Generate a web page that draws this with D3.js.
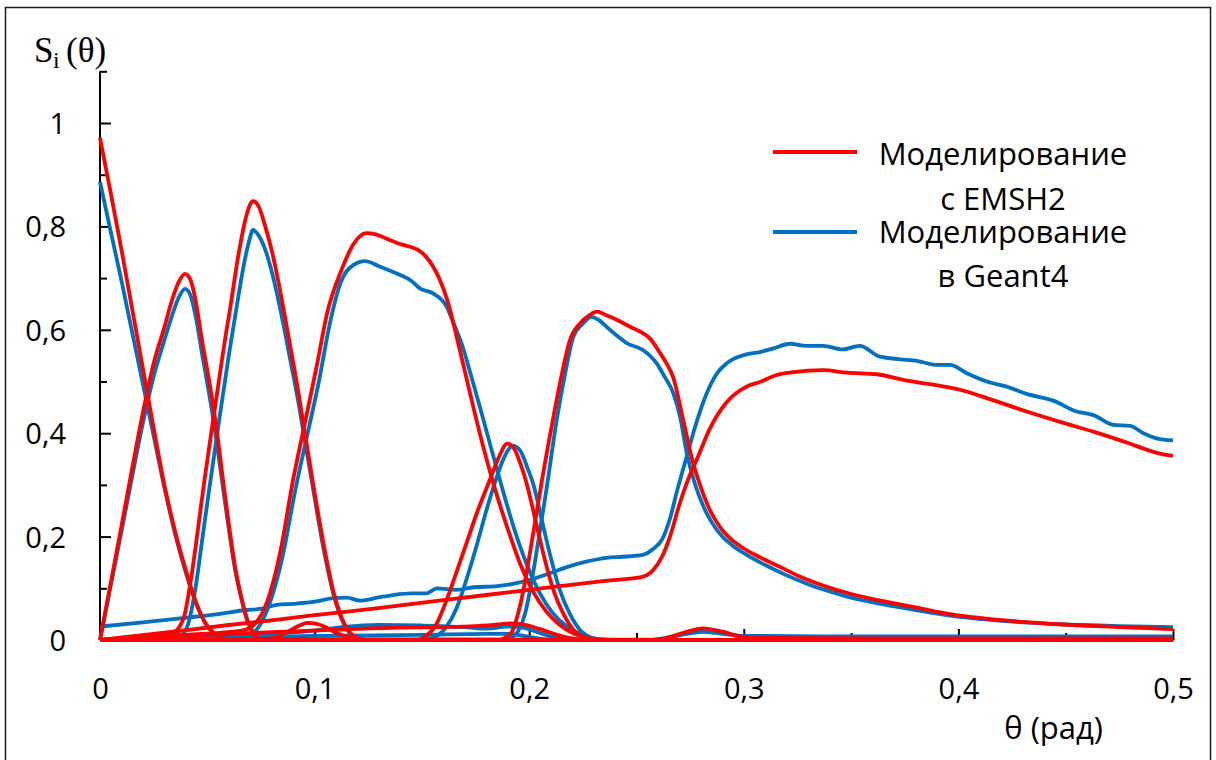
<!DOCTYPE html>
<html>
<head>
<meta charset="utf-8">
<script src="https://cdn.jsdelivr.net/npm/d3@7"></script>
<style>
  html, body { margin: 0; padding: 0; background: #fff; }
  svg { display: block; }
</style>
</head>
<body>
<svg id="chart" width="1216" height="760"></svg>
<script>
// Tick values on both axes
const xMajorTicks = [0, 0.1, 0.2, 0.3, 0.4, 0.5];
const xMinorTicks = [0.05, 0.15, 0.25, 0.35, 0.45];
const yMajorTicks = [0, 0.2, 0.4, 0.6, 0.8, 1.0];
const yMinorTicks = [0.1, 0.3, 0.5, 0.7, 0.9, 1.1];

// Legend entries (each split over two lines)
const legendRedLines = ["Моделирование", "с EMSH2"];
const legendBlueLines = ["Моделирование", "в Geant4"];

// S_i(θ) curves, modelling with EMSH2: [θ, S]
const emsh2S1 = [[0,0.971],[0.005,0.865],[0.01,0.755],[0.015,0.64],[0.02,0.525],[0.025,0.41],[0.03,0.3],[0.035,0.21],[0.04,0.135],[0.045,0.07],[0.05,0.027],[0.055,0.008],[0.06,0.001],[0.5,0]];
const emsh2S2 = [[0,0],[0.005,0.11],[0.01,0.22],[0.014,0.31],[0.02,0.44],[0.025,0.535],[0.03,0.605],[0.0336,0.658],[0.037,0.695],[0.0396,0.708],[0.042,0.698],[0.0445,0.658],[0.0475,0.58],[0.0505,0.51],[0.0536,0.43],[0.0573,0.31],[0.06,0.225],[0.063,0.14],[0.066,0.08],[0.0685,0.04],[0.0713,0.014],[0.075,0.002],[0.08,0],[0.5,0]];
const emsh2S3 = [[0,0],[0.02,0.008],[0.034,0.015],[0.037,0.025],[0.0395,0.05],[0.0425,0.12],[0.0455,0.21],[0.0487,0.31],[0.0536,0.45],[0.059,0.6],[0.0606,0.64],[0.0645,0.745],[0.0685,0.825],[0.0713,0.849],[0.074,0.838],[0.077,0.8],[0.0805,0.745],[0.0835,0.685],[0.0862,0.625],[0.089,0.56],[0.092,0.49],[0.0955,0.4],[0.099,0.31],[0.104,0.19],[0.109,0.09],[0.114,0.03],[0.119,0.006],[0.124,0],[0.5,0]];
const emsh2S4 = [[0,0],[0.03,0.008],[0.062,0.016],[0.068,0.02],[0.072,0.03],[0.078,0.075],[0.084,0.17],[0.09,0.31],[0.0955,0.42],[0.101,0.53],[0.106,0.635],[0.112,0.71],[0.118,0.765],[0.124,0.787],[0.128,0.785],[0.132,0.779],[0.1398,0.766],[0.145,0.76],[0.1483,0.754],[0.152,0.741],[0.158,0.7],[0.162,0.655],[0.166,0.59],[0.17,0.52],[0.174,0.45],[0.1785,0.375],[0.1835,0.3],[0.19,0.215],[0.196,0.145],[0.202,0.092],[0.208,0.055],[0.214,0.03],[0.22,0.014],[0.226,0.005],[0.232,0.001],[0.238,0],[0.5,0]];
const emsh2S5 = [[0,0],[0.148,0],[0.152,0.008],[0.156,0.025],[0.1615,0.077],[0.166,0.13],[0.171,0.19],[0.176,0.25],[0.1817,0.31],[0.186,0.355],[0.1897,0.38],[0.193,0.37],[0.196,0.34],[0.199,0.3],[0.203,0.23],[0.207,0.16],[0.211,0.1],[0.216,0.05],[0.221,0.018],[0.226,0.004],[0.23,0],[0.5,0]];
const emsh2S6 = [[0,0],[0.186,0],[0.189,0.005],[0.192,0.016],[0.194,0.039],[0.197,0.09],[0.2,0.16],[0.203,0.235],[0.206,0.31],[0.211,0.425],[0.215,0.51],[0.219,0.58],[0.2237,0.6125],[0.228,0.628],[0.2316,0.635],[0.236,0.628],[0.241,0.619],[0.247,0.606],[0.2515,0.597],[0.2563,0.583],[0.261,0.555],[0.264,0.535],[0.267,0.509],[0.2718,0.425],[0.276,0.348],[0.28,0.295],[0.284,0.253],[0.289,0.218],[0.2935,0.197],[0.3,0.177],[0.3075,0.16],[0.315,0.145],[0.326,0.123],[0.338,0.104],[0.35,0.089],[0.365,0.075],[0.38,0.063],[0.396,0.05],[0.419,0.039],[0.449,0.03],[0.475,0.025],[0.5,0.021]];
const emsh2S7 = [[0,0],[0.03,0.014],[0.06,0.029],[0.084,0.04],[0.1,0.048],[0.1305,0.062],[0.16,0.077],[0.19,0.092],[0.214,0.104],[0.239,0.116],[0.2516,0.121],[0.2577,0.135],[0.262,0.162],[0.2656,0.2],[0.27,0.262],[0.274,0.31],[0.278,0.348],[0.2843,0.41],[0.292,0.46],[0.3013,0.49],[0.3075,0.499],[0.3153,0.5126],[0.323,0.518],[0.33,0.521],[0.337,0.522],[0.348,0.517],[0.362,0.514],[0.3743,0.503],[0.3852,0.496],[0.4007,0.484],[0.416,0.464],[0.4318,0.442],[0.4473,0.422],[0.4629,0.403],[0.4784,0.382],[0.4925,0.362],[0.5,0.356]];
const emsh2S8 = [[0,0],[0.02,0.004],[0.05,0.01],[0.08,0.015],[0.11,0.02],[0.14,0.024],[0.16,0.025],[0.175,0.027],[0.185,0.03],[0.191,0.032],[0.197,0.03],[0.205,0.021],[0.213,0.01],[0.22,0.003],[0.227,0],[0.5,0]];
const emsh2S9 = [[0,0],[0.076,0],[0.082,0.005],[0.088,0.017],[0.093,0.028],[0.0965,0.033],[0.1,0.032],[0.105,0.025],[0.11,0.014],[0.116,0.005],[0.122,0],[0.5,0]];
const emsh2S10 = [[0,0],[0.258,0],[0.265,0.005],[0.272,0.014],[0.281,0.0225],[0.29,0.016],[0.298,0.007],[0.305,0.004],[0.4,0.003],[0.5,0.003]];

// S_i(θ) curves, modelling in Geant4: [θ, S]
const geant4S1 = [[0,0.886],[0.005,0.79],[0.01,0.695],[0.015,0.595],[0.02,0.495],[0.025,0.395],[0.03,0.295],[0.035,0.205],[0.04,0.13],[0.045,0.068],[0.05,0.027],[0.055,0.008],[0.06,0.001],[0.5,0]];
const geant4S2 = [[0,0],[0.005,0.105],[0.01,0.21],[0.014,0.295],[0.02,0.42],[0.025,0.51],[0.03,0.58],[0.0336,0.628],[0.037,0.665],[0.0396,0.679],[0.042,0.668],[0.0445,0.628],[0.0475,0.555],[0.0505,0.485],[0.0536,0.405],[0.0573,0.295],[0.06,0.215],[0.063,0.135],[0.066,0.078],[0.0685,0.04],[0.0713,0.015],[0.075,0.003],[0.08,0],[0.5,0]];
const geant4S3 = [[0,0],[0.034,0],[0.038,0.008],[0.041,0.03],[0.0445,0.1],[0.0475,0.19],[0.0505,0.28],[0.055,0.41],[0.06,0.55],[0.0637,0.645],[0.067,0.725],[0.0695,0.772],[0.0713,0.793],[0.074,0.782],[0.077,0.755],[0.0805,0.705],[0.0835,0.65],[0.0862,0.595],[0.089,0.535],[0.092,0.47],[0.0955,0.385],[0.099,0.3],[0.104,0.18],[0.109,0.085],[0.114,0.028],[0.119,0.005],[0.124,0],[0.5,0]];
const geant4S4 = [[0,0],[0.063,0],[0.067,0.005],[0.073,0.02],[0.079,0.07],[0.085,0.16],[0.091,0.29],[0.0965,0.395],[0.102,0.5],[0.107,0.61],[0.112,0.69],[0.118,0.725],[0.1235,0.733],[0.1305,0.722],[0.1398,0.706],[0.145,0.695],[0.149,0.68],[0.155,0.671],[0.1615,0.645],[0.165,0.61],[0.169,0.567],[0.173,0.51],[0.177,0.451],[0.182,0.375],[0.187,0.3],[0.193,0.215],[0.199,0.145],[0.205,0.09],[0.211,0.052],[0.217,0.028],[0.223,0.013],[0.229,0.004],[0.235,0.001],[0.24,0],[0.5,0]];
const geant4S5 = [[0,0],[0.15,0],[0.156,0.006],[0.1615,0.026],[0.166,0.06],[0.171,0.12],[0.176,0.19],[0.18,0.25],[0.1845,0.31],[0.188,0.35],[0.1925,0.376],[0.196,0.365],[0.199,0.335],[0.202,0.3],[0.206,0.23],[0.21,0.16],[0.214,0.1],[0.219,0.05],[0.224,0.018],[0.229,0.004],[0.233,0],[0.5,0]];
const geant4S6 = [[0,0],[0.189,0],[0.192,0.005],[0.195,0.018],[0.198,0.05],[0.201,0.11],[0.204,0.185],[0.208,0.29],[0.2128,0.425],[0.2165,0.51],[0.2206,0.587],[0.225,0.612],[0.229,0.625],[0.232,0.62],[0.236,0.606],[0.2405,0.59],[0.2456,0.574],[0.253,0.561],[0.2594,0.535],[0.263,0.51],[0.2671,0.478],[0.2703,0.432],[0.2735,0.36],[0.277,0.305],[0.281,0.26],[0.285,0.228],[0.29,0.2],[0.295,0.182],[0.3,0.168],[0.31,0.145],[0.32,0.125],[0.33,0.108],[0.34,0.094],[0.35,0.082],[0.365,0.069],[0.38,0.058],[0.396,0.047],[0.42,0.037],[0.45,0.03],[0.475,0.027],[0.5,0.025]];
const geant4S7 = [[0,0.026],[0.02,0.034],[0.04,0.043],[0.055,0.05],[0.0683,0.058],[0.0746,0.06],[0.0823,0.068],[0.09,0.07],[0.1,0.074],[0.1087,0.081],[0.115,0.082],[0.1212,0.076],[0.1305,0.083],[0.1367,0.087],[0.1452,0.09],[0.152,0.09],[0.157,0.1],[0.166,0.097],[0.174,0.102],[0.185,0.104],[0.193,0.109],[0.2,0.116],[0.209,0.128],[0.2175,0.141],[0.227,0.152],[0.236,0.159],[0.243,0.161],[0.25,0.163],[0.2545,0.167],[0.2577,0.176],[0.262,0.195],[0.2656,0.235],[0.269,0.29],[0.2734,0.355],[0.2775,0.415],[0.2825,0.475],[0.2874,0.515],[0.292,0.535],[0.2998,0.551],[0.3075,0.557],[0.3138,0.564],[0.3215,0.573],[0.3293,0.569],[0.337,0.569],[0.346,0.562],[0.354,0.569],[0.3635,0.548],[0.3728,0.543],[0.3806,0.54],[0.39,0.532],[0.396,0.532],[0.4039,0.516],[0.4132,0.5],[0.4225,0.49],[0.4318,0.476],[0.4442,0.463],[0.4551,0.442],[0.4629,0.435],[0.4722,0.416],[0.48,0.414],[0.4862,0.4],[0.4924,0.39],[0.5,0.386]];
const geant4S8 = [[0,0],[0.04,0.005],[0.08,0.012],[0.1,0.018],[0.115,0.026],[0.13,0.029],[0.15,0.028],[0.17,0.025],[0.18,0.022],[0.19,0.026],[0.197,0.024],[0.204,0.015],[0.211,0.006],[0.218,0.001],[0.225,0],[0.5,0]];
const geant4S9 = [[0,0],[0.05,0.003],[0.1,0.008],[0.15,0.01],[0.18,0.012],[0.19,0.012],[0.2,0.006],[0.21,0],[0.5,0]];
const geant4S10 = [[0,0],[0.255,0],[0.262,0.003],[0.27,0.009],[0.281,0.016],[0.29,0.012],[0.3,0.008],[0.35,0.007],[0.4,0.007],[0.45,0.007],[0.5,0.007]];

const emsh2Curves = [emsh2S1, emsh2S2, emsh2S3, emsh2S4, emsh2S5, emsh2S6, emsh2S7, emsh2S8, emsh2S9, emsh2S10];
const geant4Curves = [geant4S1, geant4S2, geant4S3, geant4S4, geant4S5, geant4S6, geant4S7, geant4S8, geant4S9, geant4S10];

const RED = "#ff0000";
const BLUE = "#0070c0";
const SANS = "'Open Sans', 'Noto Sans', sans-serif";
const SERIF = "'Liberation Serif', 'Times New Roman', serif";

const svg = d3.select("#chart");

// Outer frame
svg.append("rect")
  .attr("x", 5.5).attr("y", 7.5)
  .attr("width", 1205).attr("height", 800)
  .attr("fill", "#fff")
  .attr("stroke", "#1a1a1a")
  .attr("stroke-width", 1.5);

const x = d3.scaleLinear().domain([0, 0.5]).range([100, 1173]);
const y = d3.scaleLinear().domain([0, 1.1]).range([640, 71.3]);

const fmt = d => (d === 0 ? "0" : String(+d.toFixed(1)).replace(".", ","));

function styleAxis(g) {
  g.selectAll(".domain").attr("stroke", "#000").attr("stroke-width", 2);
  g.selectAll(".tick line").attr("stroke", "#000").attr("stroke-width", 2);
  g.selectAll(".tick text")
    .style("font-family", SANS)
    .style("font-size", "29px")
    .attr("fill", "#000");
}

// Y axis: labelled ticks every 0.2, short ticks in between, all pointing inward
const yAxisG = svg.append("g").attr("transform", "translate(100,0)")
  .call(d3.axisLeft(y).tickValues(yMajorTicks).tickSizeInner(-11).tickSizeOuter(0).tickPadding(34).tickFormat(fmt))
  .call(styleAxis);
yAxisG.selectAll(".tick text").attr("dy", "0.36em");
yAxisG.select(".domain").attr("d", `M0,${y(0)}V${y(1.1)}`);

svg.append("g").attr("transform", "translate(100,0)")
  .call(d3.axisLeft(y).tickValues(yMinorTicks).tickSizeInner(-7).tickSizeOuter(0).tickFormat(""))
  .call(styleAxis)
  .call(g => g.select(".domain").remove());

// X axis
svg.append("g").attr("transform", "translate(0,640)")
  .call(d3.axisBottom(x).tickValues(xMajorTicks).tickSizeInner(-11).tickSizeOuter(0).tickPadding(38).tickFormat(fmt))
  .call(styleAxis);

svg.append("g").attr("transform", "translate(0,640)")
  .call(d3.axisBottom(x).tickValues(xMinorTicks).tickSizeInner(-7).tickSizeOuter(0).tickFormat(""))
  .call(styleAxis)
  .call(g => g.select(".domain").remove());

// Curves
const line = d3.line()
  .x(d => x(d[0]))
  .y(d => y(d[1]))
  .curve(d3.curveMonotoneX);

svg.append("g").selectAll("path")
  .data(geant4Curves)
  .join("path")
  .attr("d", line)
  .attr("fill", "none")
  .attr("stroke", BLUE)
  .attr("stroke-width", 3.8)
  .attr("stroke-linejoin", "round");

svg.append("g").selectAll("path")
  .data(emsh2Curves)
  .join("path")
  .attr("d", line)
  .attr("fill", "none")
  .attr("stroke", RED)
  .attr("stroke-width", 3.8)
  .attr("stroke-linejoin", "round");

// Axis titles
const yTitle = svg.append("g").style("font-family", SERIF).attr("fill", "#000");
yTitle.append("text").attr("x", 34).attr("y", 62).style("font-size", "35px").text("S");
yTitle.append("text").attr("x", 53).attr("y", 68).style("font-size", "24px").text("i");
yTitle.append("text").attr("x", 66).attr("y", 62).style("font-size", "35px").text("(θ)");

svg.append("text")
  .attr("x", 1103).attr("y", 739)
  .attr("text-anchor", "end")
  .style("font-family", SANS)
  .style("font-size", "31px")
  .attr("fill", "#000")
  .text("θ (рад)");

// Legend
const legend = svg.append("g");
const legendItems = [
  { color: RED, lines: legendRedLines, markY: 152, textY: [165, 210] },
  { color: BLUE, lines: legendBlueLines, markY: 232, textY: [243, 287] }
];
legendItems.forEach(item => {
  legend.append("line")
    .attr("x1", 773).attr("x2", 857)
    .attr("y1", item.markY).attr("y2", item.markY)
    .attr("stroke", item.color).attr("stroke-width", 3.8);
  item.lines.forEach((t, i) => {
    legend.append("text")
      .attr("x", 1003).attr("y", item.textY[i])
      .attr("text-anchor", "middle")
      .style("font-family", SANS)
      .style("font-size", "31px")
      .attr("fill", "#000")
      .text(t);
  });
});
</script>
</body>
</html>
